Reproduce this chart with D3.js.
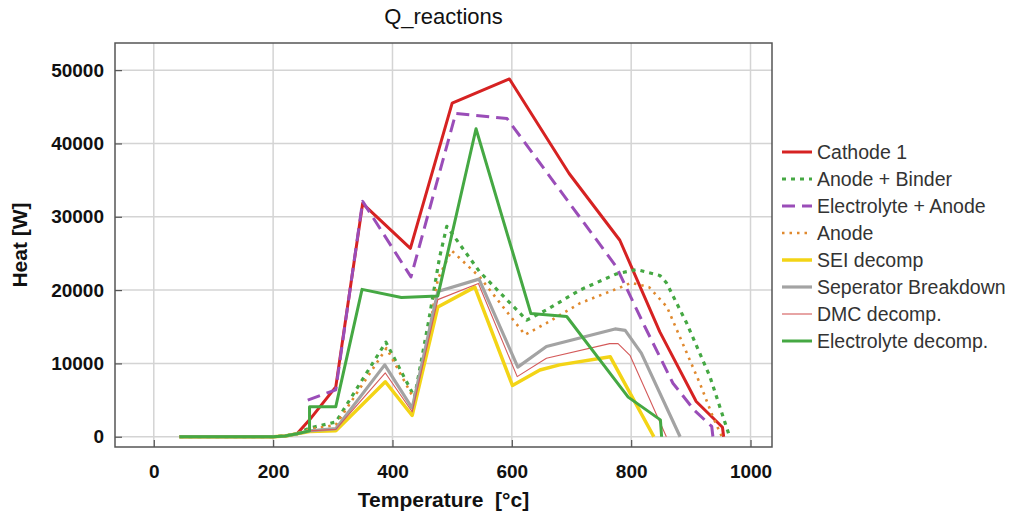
<!DOCTYPE html>
<html>
<head>
<meta charset="utf-8">
<script src="https://cdn.jsdelivr.net/npm/d3@7"></script>
<style>
  body { margin: 0; background: #fff; }
  text { font-family: "Liberation Sans", Arial, sans-serif; }
</style>
</head>
<body>
<svg id="chart" width="1016" height="516"></svg>
<script>
// series names, in legend order
const names = ["Cathode 1", "Anode + Binder", "Electrolyte + Anode", "Anode",
  "SEI decomp", "Seperator Breakdown", "DMC decomp.", "Electrolyte decomp."];

// temperature [°C] / heat [W]
const cathodeT = [43, 200, 220, 240, 261, 305, 350, 430, 500, 596, 696, 781, 848, 909, 953, 955];
const cathodeQ = [0, 0, 100, 400, 2300, 6800, 31800, 25700, 45500, 48800, 35900, 26800, 14300, 4800, 1300, 0];

const anodeBinderT = [43, 200, 220, 240, 261, 305, 389, 437, 460, 479, 491, 546, 625, 658, 714, 775, 809, 848, 859, 893, 932, 965];
const anodeBinderQ = [0, 0, 100, 400, 1200, 2000, 12900, 5400, 15500, 24500, 28700, 22500, 15900, 17300, 20000, 22200, 22800, 22000, 21000, 15500, 8200, 0];

const elecAnodeT = [258, 305, 350, 431, 506, 592, 775, 823, 870, 906, 935, 937];
const elecAnodeQ = [5000, 6400, 32100, 21800, 44100, 43400, 23200, 15000, 7300, 3600, 1400, 0];

const anodeT = [43, 200, 220, 240, 261, 305, 390, 437, 460, 476, 499, 546, 622, 658, 714, 786, 800, 830, 860, 915, 937, 952];
const anodeQ = [0, 0, 100, 400, 1000, 1600, 12100, 5000, 13500, 21500, 25400, 21800, 13900, 15500, 18200, 20500, 21000, 20400, 17700, 7300, 2700, 0];

const seiT = [43, 200, 220, 240, 261, 305, 388, 433, 476, 538, 601, 647, 680, 765, 838];
const seiQ = [0, 0, 100, 400, 700, 800, 7500, 2900, 17700, 20400, 7000, 9100, 9800, 10900, 0];

const separatorT = [43, 200, 220, 240, 261, 305, 387, 433, 476, 545, 610, 658, 773, 790, 817, 882];
const separatorQ = [0, 0, 100, 400, 800, 1100, 9800, 3900, 19800, 21500, 9500, 12300, 14700, 14500, 11400, 0];

const dmcT = [43, 200, 220, 240, 261, 305, 388, 433, 476, 544, 609, 658, 764, 778, 798, 859];
const dmcQ = [0, 0, 100, 400, 800, 1000, 8700, 3400, 18700, 20900, 8200, 10700, 12700, 12700, 11100, 0];

const elecDecompT = [43, 200, 220, 240, 261, 261, 305, 349, 415, 476, 540, 632, 692, 795, 849, 851];
const elecDecompQ = [0, 0, 100, 400, 800, 4100, 4100, 20100, 19000, 19200, 42000, 16800, 16400, 5400, 2300, 0];

const xTicks = [0, 200, 400, 600, 800, 1000];
const yTicks = [0, 10000, 20000, 30000, 40000, 50000];

const seriesT = [cathodeT, anodeBinderT, elecAnodeT, anodeT, seiT, separatorT, dmcT, elecDecompT];
const seriesQ = [cathodeQ, anodeBinderQ, elecAnodeQ, anodeQ, seiQ, separatorQ, dmcQ, elecDecompQ];

// line styles
const styles = [
  { color: "#d62222", width: 3, dash: null },
  { color: "#45a843", width: 3.2, dash: "4,5" },
  { color: "#9a4db8", width: 3, dash: "13,7" },
  { color: "#e0892e", width: 2.6, dash: "2.5,5" },
  { color: "#f3d416", width: 3.5, dash: null },
  { color: "#a3a3a3", width: 3.2, dash: null },
  { color: "#d45a5a", width: 1.1, dash: null },
  { color: "#45a843", width: 3, dash: null }
];

const margin = { top: 43, right: 244, bottom: 69, left: 115 };
const width = 1016 - margin.left - margin.right;
const height = 516 - margin.top - margin.bottom;

const svg = d3.select("#chart");
const g = svg.append("g").attr("transform", `translate(${margin.left},${margin.top})`);

const x = d3.scaleLinear().domain([-65, 1036]).range([0, width]);
const y = d3.scaleLinear().domain([-1400, 53700]).range([height, 0]);

// grid
g.append("g").selectAll("line").data(xTicks).join("line")
  .attr("x1", d => x(d)).attr("x2", d => x(d))
  .attr("y1", 0).attr("y2", height)
  .attr("stroke", "#d4d4d4").attr("stroke-width", 1.5);
g.append("g").selectAll("line").data(yTicks).join("line")
  .attr("x1", 0).attr("x2", width)
  .attr("y1", d => y(d)).attr("y2", d => y(d))
  .attr("stroke", "#d4d4d4").attr("stroke-width", 1.5);

// axes with inward ticks
const xAxis = g.append("g").attr("transform", `translate(0,${height})`)
  .call(d3.axisBottom(x).tickValues(xTicks).tickSizeInner(-7).tickSizeOuter(0).tickPadding(18).tickFormat(d3.format("d")));
const yAxis = g.append("g")
  .call(d3.axisLeft(y).tickValues(yTicks).tickSizeInner(-7).tickSizeOuter(0).tickPadding(11).tickFormat(d3.format("d")));
[xAxis, yAxis].forEach(a => {
  a.select(".domain").remove();
  a.selectAll(".tick line").attr("stroke", "#555").attr("stroke-width", 1.2);
  a.selectAll(".tick text")
    .attr("fill", "#111")
    .style("font-size", "19px")
    .style("font-weight", "bold")
    .style("font-family", "'Liberation Sans', Arial, sans-serif");
});

// frame
g.append("rect").attr("width", width).attr("height", height)
  .attr("fill", "none").attr("stroke", "#555").attr("stroke-width", 1.5);

// series lines
const line = d3.line().x(d => x(d[0])).y(d => y(d[1]));
names.forEach((name, i) => {
  const pts = seriesT[i].map((t, k) => [t, seriesQ[i][k]]);
  g.append("path")
    .datum(pts)
    .attr("d", line)
    .attr("fill", "none")
    .attr("stroke", styles[i].color)
    .attr("stroke-width", styles[i].width)
    .attr("stroke-dasharray", styles[i].dash)
    .attr("stroke-linejoin", "round");
});

// title and axis labels
svg.append("text").attr("x", margin.left + width / 2).attr("y", 24)
  .attr("text-anchor", "middle").style("font-size", "22px").attr("fill", "#111")
  .text("Q_reactions");
svg.append("text").attr("x", margin.left + width / 2).attr("y", 507)
  .attr("text-anchor", "middle").style("font-size", "21px").style("font-weight", "bold").attr("fill", "#111")
  .attr("xml:space", "preserve")
  .text("Temperature  [°c]");
svg.append("text").attr("transform", "translate(27,245) rotate(-90)")
  .attr("text-anchor", "middle").style("font-size", "21px").style("font-weight", "bold").attr("fill", "#111")
  .text("Heat [W]");

// legend
const legend = svg.append("g").attr("transform", "translate(782,152)");
names.forEach((name, i) => {
  const row = legend.append("g").attr("transform", `translate(0,${i * 27})`);
  row.append("line").attr("x1", 0).attr("x2", 30).attr("y1", 0).attr("y2", 0)
    .attr("stroke", styles[i].color)
    .attr("stroke-width", styles[i].width)
    .attr("stroke-dasharray", styles[i].dash);
  row.append("text").attr("x", 35).attr("y", 7)
    .style("font-size", "19.5px").attr("fill", "#333")
    .text(name);
});
</script>
</body>
</html>
